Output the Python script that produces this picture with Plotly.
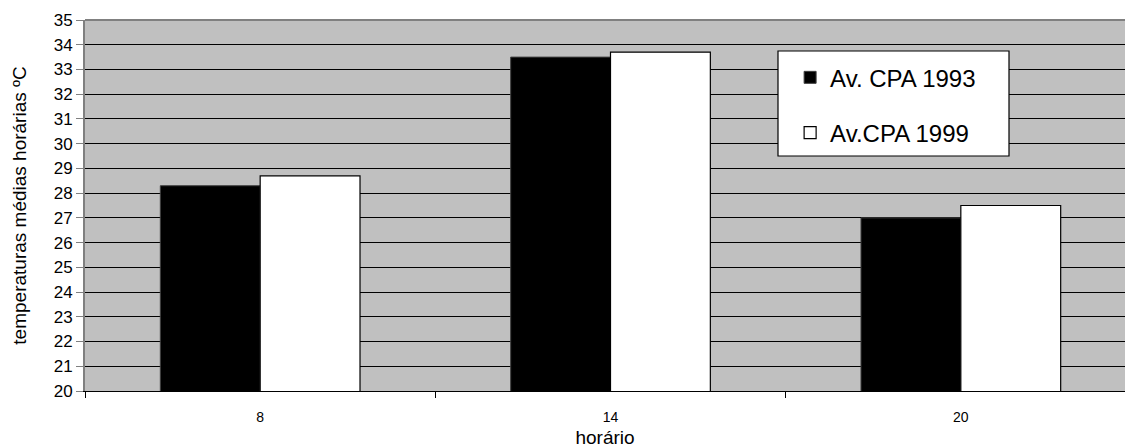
import plotly.graph_objects as go

hours = ["8", "14", "20"]
s1993 = [28.3, 33.5, 27.0]
s1999 = [28.7, 33.7, 27.5]
name1993 = "Av. CPA 1993"
name1999 = "Av.CPA 1999"

FONT = "Arial, Liberation Sans, sans-serif"

fig = go.Figure()
fig.add_trace(go.Bar(x=hours, y=s1993, name=name1993, legendgroup="a",
                     marker=dict(color="black", line=dict(color="#404040", width=1))))
fig.add_trace(go.Bar(x=hours, y=s1999, name=name1999, legendgroup="b",
                     marker=dict(color="white", line=dict(color="black", width=1.2))))

fig.update_layout(
    width=1125, height=448,
    margin=dict(l=85, r=0, t=20, b=57),
    paper_bgcolor="white", plot_bgcolor="#C0C0C0",
    barmode="group", bargap=0.43, bargroupgap=0,
    font=dict(family=FONT, color="black"),
    showlegend=True,
    legend=dict(x=0.678, y=0.905, xanchor="left", yanchor="top",
                bgcolor="rgba(0,0,0,0)", borderwidth=0,
                font=dict(size=24, family=FONT), traceorder="grouped",
                tracegroupgap=21),
    shapes=[
        dict(type="rect", xref="paper", yref="paper",
             x0=(778-85)/1040, x1=(1009-85)/1040,
             y0=1-(156-20)/371, y1=1-(51-20)/371,
             fillcolor="white", line=dict(color="black", width=1.2), layer="above"),
        dict(type="line", xref="paper", yref="paper", x0=0, x1=1, y0=1, y1=1,
             line=dict(color="#808080", width=2), layer="above"),
    ],
)

fig.update_xaxes(
    type="category", range=[-0.5, 2.5 - 11/350.3],
    showline=True, linecolor="black", linewidth=1,
    ticks="outside", tickson="boundaries", ticklen=6, tickcolor="black",
    tickfont=dict(size=14), ticklabelstandoff=13,
    showgrid=False,
    title=dict(text="horário", font=dict(size=19), standoff=10),
)
fig.update_yaxes(
    range=[20, 35], dtick=1, tick0=20,
    showline=True, linecolor="#808080", linewidth=2,
    ticks="outside", ticklen=7, tickcolor="#808080",
    tickfont=dict(size=17),
    showgrid=True, gridcolor="black", gridwidth=1,
    zeroline=False,
    title=dict(text="temperaturas médias horárias ºC", font=dict(size=19), standoff=22),
)

fig.write_html("out.html")
